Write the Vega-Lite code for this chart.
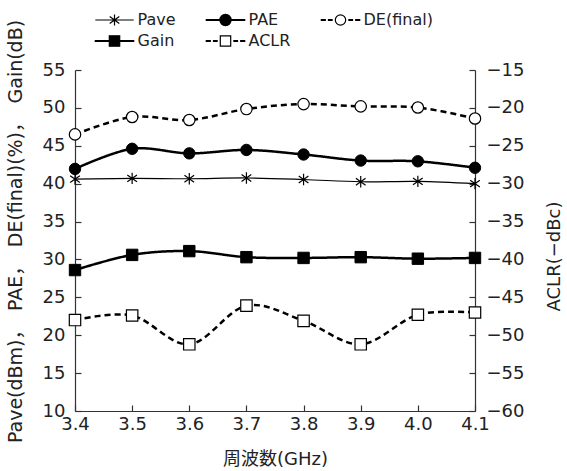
{
  "$schema": "https://vega.github.io/schema/vega-lite/v6.json",
  "width": 400,
  "height": 341,
  "autosize": {"type": "none"},
  "padding": {"left": 75, "top": 70, "right": 92, "bottom": 60},
  "background": "white",
  "config": {
    "view": {"stroke": null},
    "font": "DejaVu Sans, Noto Sans CJK JP",
    "axis": {
      "labelFont": "DejaVu Sans, Noto Sans CJK JP",
      "titleFont": "DejaVu Sans, Noto Sans CJK JP",
      "labelFontSize": 18,
      "titleFontSize": 18,
      "titleFontWeight": "normal",
      "labelColor": "#222",
      "titleColor": "#222",
      "domainColor": "#333",
      "tickColor": "#333",
      "domainWidth": 1.2,
      "tickWidth": 1.2,
      "tickSize": -6,
      "labelFlush": false,
      "grid": false
    }
  },
  "data": {
    "values": [
      {"f": 3.4, "s": "Pave", "v": 40.6},
      {"f": 3.5, "s": "Pave", "v": 40.7},
      {"f": 3.6, "s": "Pave", "v": 40.65},
      {"f": 3.7, "s": "Pave", "v": 40.75},
      {"f": 3.8, "s": "Pave", "v": 40.55},
      {"f": 3.9, "s": "Pave", "v": 40.25},
      {"f": 4.0, "s": "Pave", "v": 40.3},
      {"f": 4.1, "s": "Pave", "v": 40.0},
      {"f": 3.4, "s": "PAE", "v": 41.95},
      {"f": 3.5, "s": "PAE", "v": 44.6},
      {"f": 3.6, "s": "PAE", "v": 44.0},
      {"f": 3.7, "s": "PAE", "v": 44.45},
      {"f": 3.8, "s": "PAE", "v": 43.85},
      {"f": 3.9, "s": "PAE", "v": 43.05},
      {"f": 4.0, "s": "PAE", "v": 42.95},
      {"f": 4.1, "s": "PAE", "v": 42.1},
      {"f": 3.4, "s": "DE(final)", "v": 46.5},
      {"f": 3.5, "s": "DE(final)", "v": 48.8},
      {"f": 3.6, "s": "DE(final)", "v": 48.4},
      {"f": 3.7, "s": "DE(final)", "v": 49.85},
      {"f": 3.8, "s": "DE(final)", "v": 50.5},
      {"f": 3.9, "s": "DE(final)", "v": 50.2},
      {"f": 4.0, "s": "DE(final)", "v": 50.05},
      {"f": 4.1, "s": "DE(final)", "v": 48.6},
      {"f": 3.4, "s": "Gain", "v": 28.6},
      {"f": 3.5, "s": "Gain", "v": 30.6},
      {"f": 3.6, "s": "Gain", "v": 31.1},
      {"f": 3.7, "s": "Gain", "v": 30.3},
      {"f": 3.8, "s": "Gain", "v": 30.2},
      {"f": 3.9, "s": "Gain", "v": 30.3},
      {"f": 4.0, "s": "Gain", "v": 30.1},
      {"f": 4.1, "s": "Gain", "v": 30.2},
      {"f": 3.4, "s": "ACLR", "v": -48.0},
      {"f": 3.5, "s": "ACLR", "v": -47.4},
      {"f": 3.6, "s": "ACLR", "v": -51.2},
      {"f": 3.7, "s": "ACLR", "v": -46.1},
      {"f": 3.8, "s": "ACLR", "v": -48.1},
      {"f": 3.9, "s": "ACLR", "v": -51.2},
      {"f": 4.0, "s": "ACLR", "v": -47.3},
      {"f": 4.1, "s": "ACLR", "v": -47.0}
    ]
  },
  "layer": [
    {
      "encoding": {
        "x": {
          "field": "f",
          "type": "quantitative",
          "scale": {"domain": [3.4, 4.1]},
          "axis": {
            "title": "周波数(GHz)",
            "values": [3.4, 3.5, 3.6, 3.7, 3.8, 3.9, 4.0, 4.1],
            "format": ".1f",
            "labelPadding": 10,
            "titlePadding": 17
          }
        },
        "y": {
          "field": "v",
          "type": "quantitative",
          "scale": {"domain": [10, 55]},
          "axis": {
            "title": "Pave(dBm)，　PAE，　DE(final)(%)，　Gain(dB)",
            "titleFontSize": 19,
            "values": [10, 15, 20, 25, 30, 35, 40, 45, 50, 55],
            "labelPadding": 16,
            "titlePadding": 17,
            "titleY": 161
          }
        }
      },
      "layer": [
        {
          "transform": [{"filter": "datum.s === 'Pave'"}],
          "mark": {"type": "line", "interpolate": "cardinal", "color": "black", "strokeWidth": 1.2}
        },
        {
          "transform": [{"filter": "datum.s === 'PAE' || datum.s === 'Gain' || datum.s === 'DE(final)'"}],
          "mark": {"type": "line", "interpolate": "cardinal", "color": "black", "strokeWidth": 2.5},
          "encoding": {
            "strokeDash": {
              "field": "s",
              "type": "nominal",
              "scale": {"domain": ["PAE", "DE(final)", "Gain"], "range": [[1, 0], [6, 4], [1, 0]]},
              "legend": null
            }
          }
        },
        {
          "transform": [{"filter": "datum.s === 'Pave'"}],
          "mark": {"type": "point", "shape": "M0,-1V1M-0.85,-0.6L0.85,0.6M-0.85,0.6L0.85,-0.6", "filled": false, "stroke": "black", "strokeWidth": 1.2, "size": 130, "opacity": 1}
        },
        {
          "transform": [{"filter": "datum.s === 'PAE'"}],
          "mark": {"type": "point", "shape": "circle", "filled": true, "fill": "black", "stroke": "black", "strokeWidth": 1, "size": 130, "opacity": 1}
        },
        {
          "transform": [{"filter": "datum.s === 'DE(final)'"}],
          "mark": {"type": "point", "shape": "circle", "filled": true, "fill": "white", "stroke": "black", "strokeWidth": 1.2, "size": 130, "opacity": 1}
        },
        {
          "transform": [{"filter": "datum.s === 'Gain'"}],
          "mark": {"type": "point", "shape": "square", "filled": true, "fill": "black", "stroke": "black", "strokeWidth": 1, "size": 130, "opacity": 1}
        },
        {
          "mark": {"type": "point", "filled": true, "opacity": 0, "strokeWidth": 1.2},
          "encoding": {
            "y": {"value": 0},
            "shape": {
              "field": "s",
              "type": "nominal",
              "title": null,
              "scale": {
                "domain": ["Pave", "PAE", "DE(final)", "Gain", "ACLR"],
                "range": [
                  "M-2.4,0H2.4M0,-0.7V0.7M-0.6,-0.45L0.6,0.45M-0.6,0.45L0.6,-0.45",
                  "M-2.4,-0.06H2.4V0.06H-2.4ZM0.7,0A0.7,0.7 0 1,1 -0.7,0A0.7,0.7 0 1,1 0.7,0Z",
                  "M-2.4,-0.06H-1.9V0.06H-2.4ZM-1.5,-0.06H-1.05V0.06H-1.5ZM0.65,0A0.65,0.65 0 1,1 -0.65,0A0.65,0.65 0 1,1 0.65,0ZM1.05,-0.06H1.5V0.06H1.05ZM1.9,-0.06H2.4V0.06H1.9Z",
                  "M-2.4,-0.06H2.4V0.06H-2.4ZM-0.65,-0.65H0.65V0.65H-0.65Z",
                  "M-2.4,-0.06H-1.9V0.06H-2.4ZM-1.5,-0.06H-1.05V0.06H-1.5ZM-0.65,-0.65H0.65V0.65H-0.65ZM1.05,-0.06H1.5V0.06H1.05ZM1.9,-0.06H2.4V0.06H1.9Z"
                ]
              },
              "legend": {
                "orient": "none",
                "legendX": 20,
                "legendY": -59,
                "direction": "horizontal",
                "columns": 3,
                "columnPadding": 27,
                "rowPadding": 4,
                "padding": 0,
                "symbolSize": 256,
                "symbolOffset": 10.5,
                "labelOffset": 14,
                "labelFont": "DejaVu Sans, Noto Sans CJK JP",
                "labelFontSize": 16,
                "labelColor": "#222",
                "symbolStrokeWidth": 1.2,
                "symbolOpacity": 1
              }
            },
            "fill": {
              "field": "s",
              "type": "nominal",
              "title": null,
              "scale": {"domain": ["Pave", "PAE", "DE(final)", "Gain", "ACLR"], "range": ["black", "black", "white", "black", "white"]}
            },
            "stroke": {
              "field": "s",
              "type": "nominal",
              "title": null,
              "scale": {"domain": ["Pave", "PAE", "DE(final)", "Gain", "ACLR"], "range": ["black", "black", "black", "black", "black"]}
            }
          }
        }
      ]
    },
    {
      "transform": [{"filter": "datum.s === 'ACLR'"}],
      "encoding": {
        "x": {"field": "f", "type": "quantitative"},
        "y": {
          "field": "v",
          "type": "quantitative",
          "scale": {"domain": [-60, -15]},
          "axis": {
            "orient": "right",
            "title": "ACLR(−dBc)",
            "values": [-60, -55, -50, -45, -40, -35, -30, -25, -20, -15],
            "labelPadding": 17,
            "titlePadding": 22,
            "titleAngle": 270,
            "titleBaseline": "top",
            "titleY": 186
          }
        }
      },
      "layer": [
        {
          "mark": {"type": "line", "interpolate": "cardinal", "color": "black", "strokeWidth": 2.5, "strokeDash": [6, 4]}
        },
        {
          "mark": {"type": "point", "shape": "square", "filled": true, "fill": "white", "stroke": "black", "strokeWidth": 1.2, "size": 130, "opacity": 1}
        }
      ]
    }
  ],
  "resolve": {"scale": {"y": "independent", "shape": "independent", "fill": "independent", "stroke": "independent", "strokeDash": "independent"}}
}
